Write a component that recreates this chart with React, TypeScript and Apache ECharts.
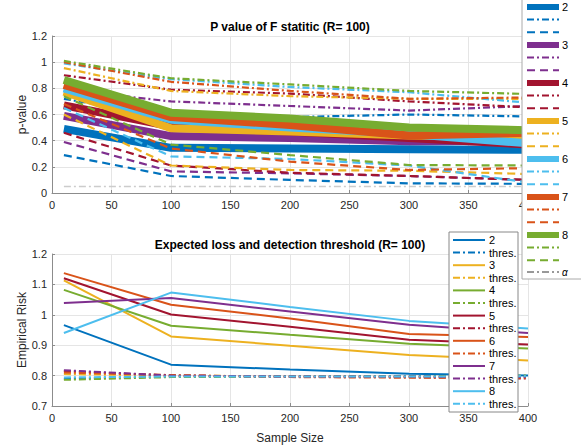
import React, { useEffect, useRef } from "react";
import * as echarts from "echarts";

const sampleSizes = [10, 100, 200, 300, 400];
const groups = ["2", "3", "4", "5", "6", "7", "8"];

// top panel colours (per group)
const topColors = ["#0072BD", "#7E2F8E", "#A2142F", "#EDB120", "#4DBEEE", "#D95319", "#77AC30"];
// bottom panel colours (per group)
const botColors = ["#0072BD", "#EDB120", "#77AC30", "#A2142F", "#D95319", "#7E2F8E", "#4DBEEE"];

// P value medians
const pMedian = [
  [0.49, 0.345, 0.34, 0.335, 0.33],
  [0.59, 0.435, 0.42, 0.395, 0.4],
  [0.67, 0.51, 0.47, 0.42, 0.37],
  [0.775, 0.495, 0.47, 0.44, 0.43],
  [0.8, 0.56, 0.5, 0.45, 0.38],
  [0.826, 0.58, 0.52, 0.44, 0.46],
  [0.864, 0.614, 0.57, 0.5, 0.48],
];
// P value upper quantiles (dash-dot)
const pUpper = [
  [0.72, 0.58, 0.58, 0.6, 0.585],
  [0.79, 0.7, 0.665, 0.63, 0.665],
  [0.9, 0.79, 0.76, 0.7, 0.655],
  [0.955, 0.78, 0.74, 0.72, 0.72],
  [0.99, 0.87, 0.81, 0.77, 0.69],
  [1.0, 0.85, 0.78, 0.72, 0.73],
  [1.01, 0.877, 0.83, 0.78, 0.757],
];
// P value lower quantiles (dashed)
const pLower = [
  [0.29, 0.13, 0.1, 0.074, 0.07],
  [0.39, 0.165, 0.15, 0.13, 0.1],
  [0.46, 0.21, 0.155, 0.13, 0.1],
  [0.6, 0.21, 0.176, 0.17, 0.145],
  [0.65, 0.28, 0.26, 0.21, 0.08],
  [0.68, 0.34, 0.24, 0.176, 0.19],
  [0.74, 0.37, 0.29, 0.214, 0.21],
];
const alphaLevel = 0.05;

// Empirical risk
const risk = [
  [0.966, 0.836, 0.82, 0.806, 0.8],
  [1.113, 0.929, 0.898, 0.868, 0.85],
  [1.082, 0.964, 0.934, 0.905, 0.889],
  [1.12, 1.001, 0.961, 0.918, 0.902],
  [1.137, 1.033, 0.988, 0.937, 0.927],
  [1.039, 1.055, 1.011, 0.967, 0.94],
  [0.94, 1.073, 1.026, 0.98, 0.955],
];
// detection thresholds
const thres = [
  [0.79, 0.797, 0.797, 0.797, 0.797],
  [0.805, 0.8, 0.798, 0.797, 0.797],
  [0.786, 0.795, 0.797, 0.798, 0.8],
  [0.815, 0.8, 0.797, 0.795, 0.79],
  [0.81, 0.802, 0.795, 0.793, 0.793],
  [0.818, 0.8, 0.797, 0.797, 0.795],
  [0.794, 0.797, 0.797, 0.797, 0.798],
];

const topTitle = "P value of F statitic (R= 100)";
const botTitle = "Expected loss and detection threshold (R= 100)";

const FONT = "Liberation Sans, Arial, Helvetica, sans-serif";
const DASHDOT = [7, 3, 2, 3];
const DASHED = [8, 5];

function pts(arr: number[]) {
  return sampleSizes.map((x, j) => [x, arr[j]]);
}

export default function App() {
  const ref = useRef<HTMLDivElement>(null);
  useEffect(() => {
    if (!ref.current) return;
    const chart = echarts.init(ref.current, null, { renderer: "svg" });

    const series: any[] = [];
    groups.forEach((g, i) => {
      const c = topColors[i];
      series.push({
        type: "line", xAxisIndex: 0, yAxisIndex: 0, data: pts(pMedian[i]), symbol: "none",
        lineStyle: { color: c, width: 8 }, silent: true,
      });
      series.push({
        type: "line", xAxisIndex: 0, yAxisIndex: 0, data: pts(pUpper[i]), symbol: "none",
        lineStyle: { color: c, width: 2.2, type: DASHDOT }, silent: true,
      });
      series.push({
        type: "line", xAxisIndex: 0, yAxisIndex: 0, data: pts(pLower[i]), symbol: "none",
        lineStyle: { color: c, width: 2.2, type: DASHED }, silent: true,
      });
    });
    series.push({
      type: "line", xAxisIndex: 0, yAxisIndex: 0,
      data: [[10, alphaLevel], [400, alphaLevel]], symbol: "none",
      lineStyle: { color: "#cccccc", width: 1.5, type: DASHDOT }, silent: true,
    });
    groups.forEach((g, i) => {
      const c = botColors[i];
      series.push({
        type: "line", xAxisIndex: 1, yAxisIndex: 1, data: pts(risk[i]), symbol: "none",
        lineStyle: { color: c, width: 2 }, silent: true,
      });
      series.push({
        type: "line", xAxisIndex: 1, yAxisIndex: 1, data: pts(thres[i]), symbol: "none",
        lineStyle: { color: c, width: 2, type: DASHDOT }, silent: true,
      });
    });

    const graphic: any[] = [];
    graphic.push({
      type: "text", x: 290, y: 27, z: 50,
      style: { text: topTitle, font: `bold 12px ${FONT}`, fill: "#000", align: "center", verticalAlign: "middle" },
    });
    graphic.push({
      type: "text", x: 290, y: 245, z: 50,
      style: { text: botTitle, font: `bold 12px ${FONT}`, fill: "#000", align: "center", verticalAlign: "middle" },
    });

    // top legend
    graphic.push({
      type: "rect", z: 100, shape: { x: 522, y: -2, width: 80, height: 281 },
      style: { fill: "#fff", stroke: "#aaaaaa", lineWidth: 1 },
    });
    groups.forEach((g, i) => {
      const c = topColors[i];
      const y0 = 7 + 38 * i;
      graphic.push({ type: "line", z: 101, shape: { x1: 527, y1: y0, x2: 559, y2: y0 }, style: { stroke: c, lineWidth: 6 } });
      graphic.push({
        type: "text", z: 101, x: 562, y: y0,
        style: { text: g, font: `11px ${FONT}`, fill: "#000", verticalAlign: "middle" },
      });
      graphic.push({ type: "line", z: 101, shape: { x1: 527, y1: y0 + 12.6, x2: 559, y2: y0 + 12.6 }, style: { stroke: c, lineWidth: 2, lineDash: DASHDOT } });
      graphic.push({ type: "line", z: 101, shape: { x1: 527, y1: y0 + 25.3, x2: 559, y2: y0 + 25.3 }, style: { stroke: c, lineWidth: 2, lineDash: DASHED } });
    });
    graphic.push({ type: "line", z: 101, shape: { x1: 527, y1: 272, x2: 559, y2: 272 }, style: { stroke: "#333", lineWidth: 1, lineDash: DASHDOT } });
    graphic.push({
      type: "text", z: 101, x: 562, y: 272,
      style: { text: "α", font: `italic 10px ${FONT}`, fill: "#000", verticalAlign: "middle" },
    });

    // bottom legend
    graphic.push({
      type: "rect", z: 100, shape: { x: 449, y: 232, width: 69, height: 180 },
      style: { fill: "#fff", stroke: "#888888", lineWidth: 1 },
    });
    groups.forEach((g, i) => {
      const c = botColors[i];
      const y0 = 240 + 25.2 * i;
      graphic.push({ type: "line", z: 101, shape: { x1: 453, y1: y0, x2: 485, y2: y0 }, style: { stroke: c, lineWidth: 2 } });
      graphic.push({
        type: "text", z: 101, x: 489, y: y0,
        style: { text: g, font: `11px ${FONT}`, fill: "#000", verticalAlign: "middle" },
      });
      graphic.push({ type: "line", z: 101, shape: { x1: 453, y1: y0 + 12.6, x2: 485, y2: y0 + 12.6 }, style: { stroke: c, lineWidth: 2, lineDash: DASHDOT } });
      graphic.push({
        type: "text", z: 101, x: 489, y: y0 + 12.6,
        style: { text: "thres.", font: `11px ${FONT}`, fill: "#000", verticalAlign: "middle" },
      });
    });

    const axisLabel = { fontSize: 11, color: "#262626", fontFamily: FONT };
    const splitLine = { show: true, lineStyle: { color: "#e5e5e5", width: 1 } };
    const axisLine = { show: true, lineStyle: { color: "#8c8c8c", width: 1 } };
    const axisTick = { show: true, inside: true, length: 3, lineStyle: { color: "#8c8c8c" } };

    chart.setOption({
      animation: false,
      grid: [
        { left: 52, right: 53, top: 36, height: 157 },
        { left: 52, right: 53, top: 254, height: 157 },
      ],
      xAxis: [
        { type: "value", gridIndex: 0, min: 0, max: 400, interval: 50, axisLabel: { ...axisLabel, margin: 6 }, splitLine, axisLine, axisTick },
        {
          type: "value", gridIndex: 1, min: 0, max: 400, interval: 50, axisLabel: { ...axisLabel, margin: 6 }, splitLine, axisLine, axisTick,
          name: "Sample Size", nameLocation: "middle", nameGap: 26, nameMoveOverlap: false,
          nameTextStyle: { fontSize: 12, color: "#262626", fontFamily: FONT },
        },
      ],
      yAxis: [
        {
          type: "value", gridIndex: 0, min: 0, max: 1.2, interval: 0.2,
          axisLabel: { ...axisLabel, margin: 5, formatter: (v: number) => String(Math.round(v * 10) / 10) },
          splitLine, axisLine, axisTick,
          name: "p-value", nameLocation: "middle", nameGap: 24, nameMoveOverlap: false,
          nameTextStyle: { fontSize: 12, color: "#262626", fontFamily: FONT },
        },
        {
          type: "value", gridIndex: 1, min: 0.7, max: 1.2, interval: 0.1,
          axisLabel: { ...axisLabel, margin: 5, formatter: (v: number) => String(Math.round(v * 10) / 10) },
          splitLine, axisLine, axisTick,
          name: "Empirical Risk", nameLocation: "middle", nameGap: 24, nameMoveOverlap: false,
          nameTextStyle: { fontSize: 12, color: "#262626", fontFamily: FONT },
        },
      ],
      series,
      graphic,
    });
    return () => chart.dispose();
  }, []);
  return <div ref={ref} style={{ position: "fixed", left: 0, top: 0, width: 581, height: 445, background: "#fff" }} />;
}
